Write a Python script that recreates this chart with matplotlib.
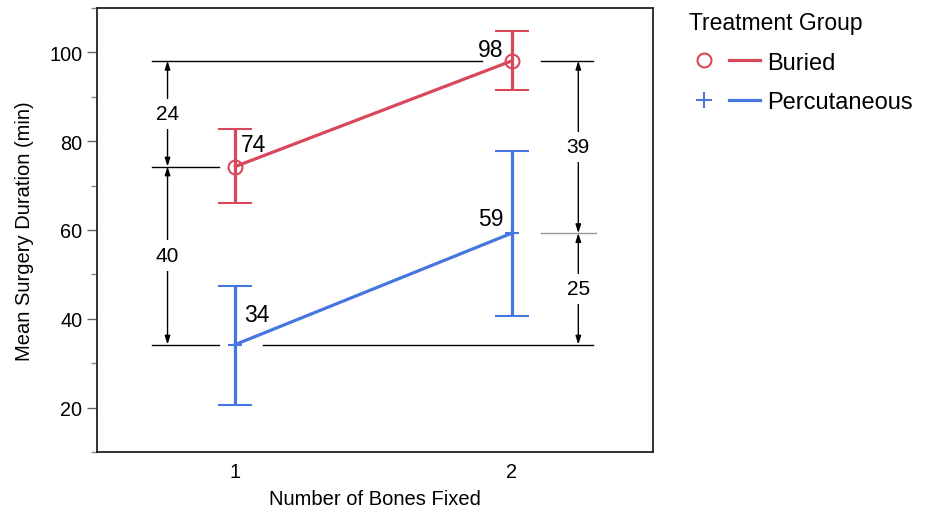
import matplotlib
matplotlib.use('Agg')
import matplotlib.pyplot as plt
from matplotlib.lines import Line2D
from matplotlib.legend_handler import HandlerTuple
from matplotlib.ticker import FixedLocator

plt.rcParams['font.family'] = ['Liberation Sans', 'DejaVu Sans']

# ---- data ----
bones = [1, 2]
xtick_labels = ['1', '2']
groups = ['Buried', 'Percutaneous']
buried_mean = [74.3, 98.1]
buried_lo = [66.0, 91.5]
buried_hi = [82.8, 104.9]
perc_mean = [34.2, 59.3]
perc_lo = [20.6, 40.7]
perc_hi = [47.4, 77.8]

RED = '#D9475A'
BLUE = '#4676E0'

fig = plt.figure(figsize=(9.26, 5.10), dpi=100)
ax = fig.add_axes([97/926, 57/510, 556/926, 444/510])
ax.set_xlim(0.5, 2.51)
ax.set_ylim(10, 110)

lw = 2.3
ax.errorbar(bones, buried_mean,
            yerr=[[m - l for m, l in zip(buried_mean, buried_lo)],
                  [h - m for m, h in zip(buried_mean, buried_hi)]],
            color=RED, lw=lw, elinewidth=lw, capsize=12, capthick=lw,
            marker='o', mfc='none', mec=RED, ms=10, mew=1.5, zorder=3)
ax.errorbar(bones, perc_mean,
            yerr=[[m - l for m, l in zip(perc_mean, perc_lo)],
                  [h - m for m, h in zip(perc_mean, perc_hi)]],
            color=BLUE, lw=lw, elinewidth=lw, capsize=12, capthick=lw,
            marker='+', mec=BLUE, ms=10, mew=1.5, zorder=3)

# ---- guide lines ----
k = 'black'
ax.plot([0.70, 1.893], [buried_mean[1]] * 2, color=k, lw=1, zorder=2)
ax.plot([2.106, 2.294], [buried_mean[1]] * 2, color=k, lw=1, zorder=2)
ax.plot([0.70, 0.94], [buried_mean[0]] * 2, color=k, lw=1, zorder=2)
ax.plot([0.70, 0.94], [perc_mean[0]] * 2, color=k, lw=1, zorder=2)
ax.plot([1.10, 2.294], [perc_mean[0]] * 2, color=k, lw=1, zorder=2)
ax.plot([2.106, 2.305], [perc_mean[1]] * 2, color='#9a9a9a', lw=1, zorder=2)

def dim(x, y0, y1):
    ax.annotate('', xy=(x, y0), xytext=(x, y1),
                arrowprops=dict(arrowstyle='<|-|>,head_length=0.5,head_width=0.16',
                                color=k, lw=1, shrinkA=0, shrinkB=0), zorder=2)
    ax.text(x, (y0 + y1) / 2, f'{abs(y1 - y0):.0f}', ha='center', va='center',
            fontsize=15, bbox=dict(fc='white', ec='none', pad=4), zorder=2.5)

dim(0.755, buried_mean[0], buried_mean[1])
dim(0.755, perc_mean[0], buried_mean[0])
dim(2.24, perc_mean[1], buried_mean[1])
dim(2.24, perc_mean[0], perc_mean[1])

# ---- value labels ----
vkw = dict(va='center', fontsize=16.5)
ax.text(1.02, buried_mean[0] + 5.0, f'{buried_mean[0]:.0f}', ha='left', **vkw)
ax.text(1.97, buried_mean[1] + 2.6, f'{buried_mean[1]:.0f}', ha='right', **vkw)
ax.text(1.03, perc_mean[0] + 6.7, f'{perc_mean[0]:.0f}', ha='left', **vkw)
ax.text(1.97, perc_mean[1] + 3.2, f'{perc_mean[1]:.0f}', ha='right', **vkw)

# ---- axes styling ----
ax.set_xticks(bones)
ax.set_xticklabels(xtick_labels)
ax.yaxis.set_major_locator(FixedLocator([20, 40, 60, 80, 100]))
ax.yaxis.set_minor_locator(FixedLocator([10, 30, 50, 70, 90, 110]))
ax.tick_params(axis='x', length=0, pad=7, labelsize=14.3)
ax.tick_params(axis='y', which='major', length=7.5, width=1, color='#666666',
               pad=3, labelsize=14.3)
ax.tick_params(axis='y', which='minor', length=4, width=1, color='#888888')
for s in ax.spines.values():
    s.set_linewidth(1.3)
    s.set_color('#222222')
ax.set_xlabel('Number of Bones Fixed', fontsize=14.5, labelpad=6)
ax.set_ylabel('Mean Surgery Duration (min)', fontsize=14.5, labelpad=11)

# ---- legend ----
h_b = (Line2D([], [], ls='none', marker='o', mfc='none', mec=RED, ms=10, mew=1.5),
       Line2D([], [], color=RED, lw=lw))
h_p = (Line2D([], [], ls='none', marker='+', mec=BLUE, ms=11, mew=1.5),
       Line2D([], [], color=BLUE, lw=lw))
fig.legend([h_b, h_p], groups, title='Treatment Group',
           handler_map={tuple: HandlerTuple(ndivide=None, pad=0.4)},
           loc='upper left', bbox_to_anchor=(677/926, 1.0),
           bbox_transform=fig.transFigure, frameon=False, borderpad=0,
           fontsize=17, title_fontsize=16.5, handlelength=3.0,
           handletextpad=0.3, alignment='left', labelspacing=0.75)

fig.savefig('out.png', dpi=100)
